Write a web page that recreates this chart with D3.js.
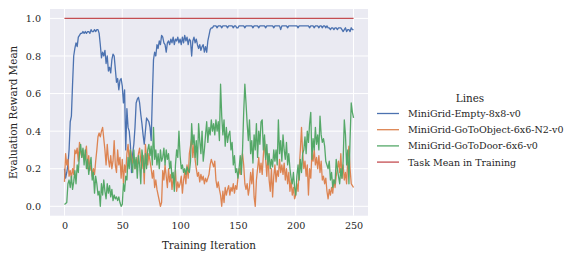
<!DOCTYPE html>
<html><head><meta charset="utf-8">
<script src="https://cdn.jsdelivr.net/npm/d3@7"></script>
<style>body{margin:0;background:#fff}text{font-family:"DejaVu Serif",serif}</style>
</head><body><svg id="c" width="574" height="262"></svg>
<script>
const seriesNames = ["MiniGrid-Empty-8x8-v0","MiniGrid-GoToObject-6x6-N2-v0","MiniGrid-GoToDoor-6x6-v0","Task Mean in Training"];
const colors = ["#4C72B0","#DD8452","#55A868","#C44E52"];
const xTicks = [0,50,100,150,200,250];
const yTicks = [0.0,0.2,0.4,0.6,0.8,1.0];
const empty = [
0.20,0.15,0.18,0.22,0.30,0.45,0.48,0.65,0.80,0.84,
0.87,0.85,0.90,0.91,0.92,0.92,0.93,0.92,0.93,0.92,
0.93,0.93,0.92,0.94,0.93,0.93,0.94,0.93,0.94,0.94,
0.92,0.86,0.79,0.82,0.80,0.83,0.76,0.80,0.72,0.74,
0.71,0.78,0.81,0.80,0.73,0.66,0.68,0.62,0.67,0.68,
0.64,0.55,0.62,0.30,0.52,0.42,0.40,0.33,0.18,0.28,
0.33,0.42,0.55,0.57,0.58,0.55,0.49,0.44,0.38,0.33,
0.40,0.47,0.46,0.45,0.42,0.35,0.58,0.78,0.82,0.80,
0.86,0.84,0.88,0.86,0.91,0.90,0.87,0.86,0.82,0.87,
0.88,0.86,0.89,0.87,0.90,0.86,0.89,0.88,0.90,0.87,
0.89,0.86,0.90,0.87,0.91,0.88,0.90,0.86,0.89,0.88,
0.80,0.88,0.90,0.87,0.89,0.86,0.84,0.86,0.83,0.85,
0.86,0.82,0.85,0.82,0.88,0.91,0.94,0.95,0.95,0.96,
0.96,0.96,0.95,0.96,0.96,0.96,0.95,0.96,0.96,0.96,
0.96,0.95,0.96,0.96,0.96,0.96,0.95,0.96,0.96,0.95,
0.95,0.96,0.96,0.96,0.96,0.96,0.95,0.96,0.96,0.96,
0.96,0.96,0.96,0.95,0.96,0.96,0.96,0.96,0.95,0.96,
0.96,0.96,0.96,0.96,0.95,0.96,0.96,0.96,0.96,0.96,
0.96,0.95,0.96,0.96,0.96,0.96,0.96,0.94,0.96,0.96,
0.96,0.96,0.96,0.95,0.96,0.96,0.96,0.96,0.96,0.96,
0.96,0.96,0.95,0.96,0.96,0.96,0.96,0.96,0.96,0.96,
0.96,0.96,0.95,0.96,0.96,0.96,0.95,0.96,0.96,0.96,
0.95,0.96,0.96,0.95,0.96,0.96,0.95,0.96,0.95,0.95,
0.94,0.95,0.95,0.94,0.95,0.95,0.94,0.95,0.95,0.95,
0.94,0.93,0.94,0.95,0.93,0.94,0.94,0.93,0.95,0.94,
0.94];
const goToObject = [
0.13,0.28,0.22,0.25,0.16,0.19,0.15,0.20,0.17,0.30,
0.28,0.31,0.24,0.34,0.29,0.26,0.30,0.25,0.28,0.32,
0.20,0.27,0.19,0.22,0.16,0.20,0.17,0.24,0.30,0.37,
0.39,0.37,0.40,0.42,0.36,0.30,0.22,0.33,0.25,0.21,
0.27,0.20,0.24,0.35,0.22,0.18,0.30,0.22,0.26,0.15,
0.25,0.12,0.22,0.18,0.28,0.33,0.24,0.30,0.27,0.23,
0.26,0.20,0.25,0.22,0.28,0.31,0.24,0.20,0.27,0.12,
0.33,0.26,0.22,0.28,0.24,0.20,0.15,0.19,0.10,0.14,
0.09,0.06,0.03,0.00,0.02,0.19,0.14,0.22,0.16,0.10,
0.20,0.13,0.17,0.09,0.15,0.12,0.19,0.08,0.13,0.10,
0.12,0.16,0.07,0.14,0.18,0.12,0.22,0.15,0.28,0.32,
0.36,0.26,0.33,0.25,0.20,0.16,0.18,0.13,0.17,0.14,
0.16,0.12,0.15,0.13,0.15,0.17,0.22,0.25,0.23,0.21,
0.24,0.14,0.10,0.13,0.09,0.06,0.00,0.08,0.02,0.10,
0.06,0.09,0.11,0.06,0.10,0.08,0.12,0.07,0.11,0.09,
0.15,0.20,0.17,0.24,0.28,0.22,0.12,0.09,0.12,0.06,
0.10,0.18,0.12,0.20,0.05,0.00,0.14,0.20,0.26,0.18,
0.23,0.17,0.27,0.35,0.25,0.16,0.28,0.14,0.08,0.20,
0.05,0.16,0.22,0.13,0.19,0.16,0.25,0.18,0.22,0.17,
0.23,0.14,0.20,0.12,0.18,0.08,0.14,0.06,0.10,0.04,
0.06,0.12,0.08,0.20,0.30,0.42,0.28,0.20,0.24,0.16,
0.22,0.06,0.20,0.15,0.28,0.24,0.30,0.22,0.26,0.20,
0.27,0.18,0.24,0.14,0.16,0.12,0.15,0.08,0.04,0.09,
0.06,0.10,0.07,0.14,0.10,0.16,0.20,0.24,0.18,0.28,
0.15,0.22,0.14,0.18,0.12,0.25,0.32,0.20,0.12,0.11,
0.10];
const goToDoor = [
0.01,0.015,0.02,0.12,0.14,0.10,0.16,0.09,0.13,0.19,
0.12,0.22,0.18,0.28,0.33,0.26,0.31,0.22,0.30,0.20,
0.25,0.17,0.22,0.26,0.14,0.18,0.07,0.16,0.12,0.06,
0.08,0.00,0.12,0.06,0.14,0.08,0.04,0.12,0.07,0.11,
0.05,0.09,0.03,0.06,0.04,0.05,0.03,0.05,0.02,0.00,
0.01,0.12,0.08,0.16,0.14,0.26,0.20,0.30,0.22,0.18,
0.30,0.20,0.26,0.15,0.27,0.22,0.12,0.30,0.25,0.18,
0.28,0.20,0.30,0.33,0.27,0.32,0.22,0.42,0.25,0.30,
0.22,0.28,0.20,0.30,0.24,0.26,0.31,0.22,0.30,0.25,
0.28,0.20,0.24,0.15,0.18,0.08,0.22,0.30,0.26,0.40,
0.27,0.20,0.22,0.18,0.20,0.17,0.21,0.19,0.18,0.24,
0.44,0.33,0.38,0.26,0.35,0.22,0.44,0.35,0.28,0.40,
0.24,0.30,0.38,0.45,0.34,0.42,0.38,0.46,0.40,0.44,
0.38,0.46,0.40,0.45,0.35,0.65,0.48,0.38,0.46,0.32,
0.42,0.34,0.38,0.40,0.30,0.34,0.22,0.27,0.18,0.20,
0.15,0.20,0.27,0.17,0.30,0.50,0.65,0.55,0.44,0.35,
0.46,0.28,0.35,0.23,0.38,0.30,0.44,0.26,0.40,0.33,
0.45,0.46,0.30,0.38,0.25,0.33,0.22,0.28,0.20,0.25,
0.21,0.30,0.24,0.30,0.22,0.46,0.28,0.35,0.24,0.38,
0.30,0.25,0.34,0.22,0.28,0.20,0.15,0.12,0.18,0.10,
0.06,0.16,0.22,0.14,0.25,0.18,0.28,0.30,0.37,0.28,
0.40,0.34,0.44,0.50,0.25,0.36,0.30,0.42,0.33,0.38,
0.30,0.48,0.38,0.34,0.36,0.32,0.24,0.22,0.20,0.24,
0.14,0.18,0.10,0.14,0.12,0.25,0.20,0.16,0.12,0.20,
0.15,0.24,0.46,0.38,0.22,0.30,0.12,0.36,0.55,0.50,
0.47];
const taskMean = [1.0, 1.0];
const taskMeanIters = [0, 250];

const svg = d3.select("#c");
const m = {l:50, r:368, t:9, b:215.7};
const x = d3.scaleLinear().domain([-12.5,262.5]).range([m.l,m.r]);
const y = d3.scaleLinear().domain([-0.05,1.05]).range([m.b,m.t]);
const tickFs = "9.6px", labelFs = "10.4px", legFs = "9.5px";

svg.append("rect").attr("x",m.l).attr("y",m.t).attr("width",m.r-m.l).attr("height",m.b-m.t).attr("fill","#EAEAF2");

const gx = svg.append("g").attr("transform",`translate(0,${m.b})`)
  .call(d3.axisBottom(x).tickValues(xTicks).tickSize(0).tickPadding(6).tickFormat(d3.format("d")));
const gy = svg.append("g").attr("transform",`translate(${m.l},0)`)
  .call(d3.axisLeft(y).tickValues(yTicks).tickSize(0).tickPadding(9).tickFormat(d3.format(".1f")));
[gx,gy].forEach(g=>{g.select(".domain").remove();g.selectAll("text").attr("font-size",tickFs).attr("fill","#262626").style("font-family","DejaVu Serif");});

svg.append("g").selectAll("line").data(xTicks).join("line")
  .attr("x1",d=>x(d)).attr("x2",d=>x(d)).attr("y1",m.t).attr("y2",m.b).attr("stroke","#fff").attr("stroke-width",1);
svg.append("g").selectAll("line").data(yTicks).join("line")
  .attr("y1",d=>y(d)).attr("y2",d=>y(d)).attr("x1",m.l).attr("x2",m.r).attr("stroke","#fff").attr("stroke-width",1);

const line = d3.line().x((d,i)=>x(i)).y(d=>y(d));
[empty,goToObject,goToDoor].forEach((s,k)=>{
  svg.append("path").attr("d",line(s)).attr("fill","none").attr("stroke",colors[k]).attr("stroke-width",1.3).attr("stroke-linejoin","round");
});
svg.append("path").attr("d",d3.line().x((d,i)=>x(taskMeanIters[i])).y(d=>y(d))(taskMean))
  .attr("fill","none").attr("stroke",colors[3]).attr("stroke-width",1.3);

svg.append("text").attr("x",(m.l+m.r)/2).attr("y",249).attr("text-anchor","middle").attr("font-size",labelFs).attr("fill","#262626").text("Training Iteration");
svg.append("text").attr("transform",`translate(17,${(m.t+m.b)/2}) rotate(-90)`).attr("text-anchor","middle").attr("font-size",labelFs).attr("fill","#262626").text("Evaluation Reward Mean");

const lg = svg.append("g");
lg.append("text").attr("x",470).attr("y",101.5).attr("text-anchor","middle").attr("font-size",labelFs).attr("fill","#262626").text("Lines");
seriesNames.forEach((n,i)=>{
  const yy = 113.5 + i*16.2;
  lg.append("line").attr("x1",377).attr("x2",399).attr("y1",yy).attr("y2",yy).attr("stroke",colors[i]).attr("stroke-width",1.3);
  lg.append("text").attr("x",408).attr("y",yy+3.4).attr("font-size",legFs).attr("fill","#262626").text(n);
});
</script></body></html>
